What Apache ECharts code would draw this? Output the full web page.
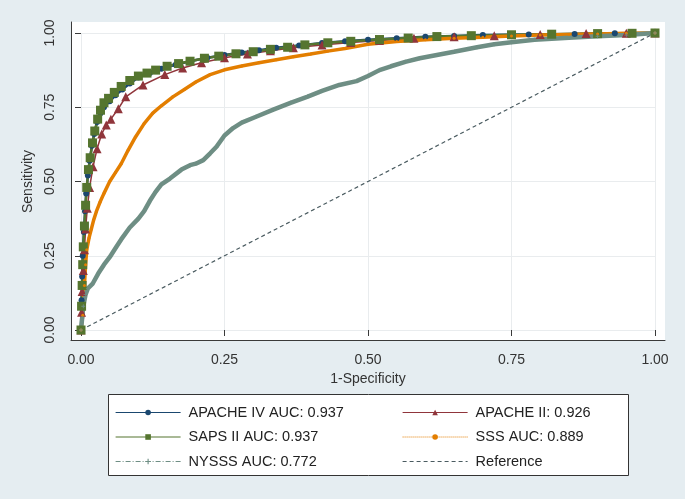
<!DOCTYPE html>
<html><head><meta charset="utf-8">
<script src="https://cdn.jsdelivr.net/npm/echarts@6/dist/echarts.min.js"></script>
<style>html,body{margin:0;padding:0;background:#e5edf1}#c{width:685px;height:499px}</style>
</head><body><div id="c"></div><script>
const tickValues = [0, 0.25, 0.5, 0.75, 1];
const tickLabels = ['0.00', '0.25', '0.50', '0.75', '1.00'];
const seriesNames = ['APACHE IV AUC: 0.937', 'APACHE II: 0.926', 'SAPS II AUC: 0.937', 'SSS AUC: 0.889', 'NYSSS AUC: 0.772', 'Reference'];

const apacheIV = [[0,0],[0.001,0.1],[0.002,0.18],[0.003,0.25],[0.005,0.33],[0.007,0.4],[0.009,0.46],[0.012,0.52],[0.015,0.57],[0.019,0.62],[0.023,0.66],[0.028,0.7],[0.034,0.73],[0.04,0.75],[0.05,0.77],[0.06,0.79],[0.072,0.81],[0.085,0.83],[0.1,0.85],[0.12,0.865],[0.14,0.88],[0.165,0.893],[0.19,0.905],[0.22,0.917],[0.25,0.926],[0.28,0.934],[0.31,0.942],[0.34,0.95],[0.38,0.958],[0.42,0.966],[0.46,0.972],[0.5,0.977],[0.55,0.982],[0.6,0.987],[0.65,0.99],[0.7,0.993],[0.78,0.995],[0.86,0.997],[0.93,0.999],[1,1]];
const apacheII = [[0,0],[0.001,0.06],[0.002,0.13],[0.004,0.2],[0.006,0.27],[0.008,0.34],[0.011,0.41],[0.015,0.48],[0.021,0.55],[0.028,0.61],[0.036,0.66],[0.044,0.69],[0.052,0.71],[0.065,0.745],[0.078,0.785],[0.108,0.825],[0.146,0.86],[0.177,0.882],[0.21,0.9],[0.25,0.917],[0.29,0.929],[0.33,0.94],[0.37,0.95],[0.42,0.96],[0.47,0.968],[0.52,0.975],[0.58,0.982],[0.65,0.987],[0.72,0.991],[0.8,0.995],[0.88,0.998],[0.95,0.999],[1,1]];
const sapsII = [[0,0],[0.001,0.08],[0.002,0.15],[0.003,0.22],[0.004,0.28],[0.006,0.35],[0.008,0.42],[0.01,0.48],[0.013,0.54],[0.016,0.58],[0.02,0.63],[0.024,0.67],[0.029,0.71],[0.034,0.74],[0.04,0.765],[0.048,0.78],[0.058,0.8],[0.07,0.82],[0.085,0.84],[0.1,0.855],[0.115,0.865],[0.13,0.875],[0.15,0.888],[0.17,0.897],[0.19,0.905],[0.215,0.915],[0.24,0.922],[0.27,0.93],[0.3,0.937],[0.33,0.945],[0.36,0.952],[0.39,0.96],[0.43,0.967],[0.47,0.972],[0.52,0.978],[0.57,0.983],[0.62,0.988],[0.68,0.991],[0.75,0.994],[0.82,0.996],[0.9,0.998],[0.96,0.999],[1,1]];
const sss = [[0,0],[0.003,0.05],[0.006,0.15],[0.008,0.22],[0.01,0.27],[0.014,0.31],[0.018,0.34],[0.022,0.37],[0.027,0.4],[0.033,0.43],[0.04,0.46],[0.05,0.5],[0.06,0.53],[0.07,0.56],[0.082,0.605],[0.095,0.65],[0.11,0.695],[0.125,0.73],[0.14,0.755],[0.16,0.785],[0.18,0.81],[0.2,0.835],[0.225,0.86],[0.25,0.876],[0.28,0.889],[0.31,0.9],[0.34,0.91],[0.37,0.92],[0.4,0.929],[0.43,0.939],[0.46,0.948],[0.5,0.962],[0.55,0.971],[0.6,0.977],[0.65,0.982],[0.7,0.986],[0.75,0.99],[0.8,0.993],[0.85,0.995],[0.9,0.997],[0.95,0.999],[1,1]];
const nysss = [[0,0],[0.002,0.04],[0.004,0.08],[0.008,0.12],[0.012,0.14],[0.02,0.155],[0.03,0.19],[0.04,0.22],[0.05,0.245],[0.06,0.275],[0.07,0.305],[0.085,0.345],[0.1,0.375],[0.11,0.4],[0.12,0.435],[0.13,0.465],[0.14,0.49],[0.155,0.51],[0.175,0.54],[0.19,0.555],[0.2,0.56],[0.213,0.572],[0.225,0.595],[0.236,0.617],[0.25,0.655],[0.265,0.68],[0.28,0.698],[0.305,0.718],[0.335,0.742],[0.365,0.765],[0.395,0.786],[0.42,0.805],[0.45,0.825],[0.48,0.838],[0.5,0.855],[0.52,0.875],[0.54,0.888],[0.565,0.903],[0.59,0.915],[0.62,0.926],[0.65,0.937],[0.69,0.952],[0.72,0.962],[0.75,0.969],[0.79,0.977],[0.85,0.984],[0.9,0.989],[0.95,0.993],[1,1]];
const reference = [[0,0],[1,1]];

const FONT = 'Liberation Sans, Arial, sans-serif';
const C = { navy:'#1a476f', maroon:'#90353b', green:'#55752f', orange:'#e37e00', teal:'#6e8e84', ref:'#4a5b60' };
const plusPath = 'path://M4,0H6V4H10V6H6V10H4V6H0V4H4Z';

const chart = echarts.init(document.getElementById('c'), null, { renderer: 'canvas' });
const fmt = v => { const i = tickValues.findIndex(t => Math.abs(t - v) < 1e-9); return i >= 0 ? tickLabels[i] : v.toFixed(2); };

function lineSeries(name, data, color, width, symbol, size, extra) {
  return Object.assign({
    type: 'line', name, data, xAxisIndex: 1, yAxisIndex: 1,
    showAllSymbol: true, symbol, symbolSize: size, clip: false, silent: true,
    lineStyle: { color, width },
    itemStyle: { color, borderWidth: 0 },
    emphasis: { disabled: true }
  }, extra || {});
}

const legendText = { color: '#222', fontSize: 14.5, fontFamily: FONT, lineHeight: 14, padding: [0, 0, 0, 3] };

chart.setOption({
  animation: false,
  backgroundColor: '#e5edf1',
  grid: [
    { left: 71, top: 22, width: 594, height: 318, show: true, backgroundColor: '#ffffff', borderWidth: 0 },
    { left: 81, top: 33, width: 574, height: 297, show: false }
  ],
  xAxis: [
    { gridIndex: 0, type: 'value', min: 0, max: 1, axisLine: { show: true, onZero: false, lineStyle: { color: '#3a3a3a', width: 1 } }, axisTick: { show: false }, axisLabel: { show: false }, splitLine: { show: false } },
    { gridIndex: 1, type: 'value', min: 0, max: 1, interval: 0.25, offset: 10,
      axisLine: { show: false }, axisTick: { show: true, length: 6, lineStyle: { color: '#3a3a3a' } },
      axisLabel: { margin: 13, color: '#333', fontSize: 14, fontFamily: FONT, formatter: fmt },
      splitLine: { show: true, lineStyle: { color: '#e9ecee', width: 1 } },
      name: '1-Specificity', nameLocation: 'middle', nameGap: 29, nameTextStyle: { color: '#333', fontSize: 14, fontFamily: FONT } }
  ],
  yAxis: [
    { gridIndex: 0, type: 'value', min: 0, max: 1, axisLine: { show: true, onZero: false, lineStyle: { color: '#3a3a3a', width: 1 } }, axisTick: { show: false }, axisLabel: { show: false }, splitLine: { show: false } },
    { gridIndex: 1, type: 'value', min: 0, max: 1, interval: 0.25, offset: 10,
      axisLine: { show: false }, axisTick: { show: true, length: 6, lineStyle: { color: '#3a3a3a' } },
      axisLabel: { margin: 14, rotate: 90, color: '#333', fontSize: 14, fontFamily: FONT, formatter: fmt },
      splitLine: { show: true, lineStyle: { color: '#e9ecee', width: 1 } },
      name: 'Sensitivity', nameLocation: 'middle', nameGap: 30, nameRotate: 90, nameTextStyle: { color: '#333', fontSize: 14, fontFamily: FONT } }
  ],
  graphic: [
    { type: 'rect', left: 108, top: 394, shape: { width: 520, height: 81 }, style: { fill: '#ffffff', stroke: '#333333', lineWidth: 1 }, z: 1 }
  ],
  legend: [
    { left: 115, top: 405, padding: 0, orient: 'vertical', itemWidth: 65, itemHeight: 7, itemGap: 9.5, selectedMode: false, z: 5,
      textStyle: legendText,
      data: [
        { name: seriesNames[0], lineStyle: { color: C.navy, width: 1.2 }, itemStyle: { color: C.navy } },
        { name: seriesNames[2], lineStyle: { color: C.green, width: 1.2 }, itemStyle: { color: C.green } },
        { name: seriesNames[4], lineStyle: { color: C.teal, width: 1, type: [5, 2, 1, 2] }, itemStyle: { color: C.teal } }
      ] },
    { left: 402, top: 405, padding: 0, orient: 'vertical', itemWidth: 65, itemHeight: 7, itemGap: 9.5, selectedMode: false, z: 5,
      textStyle: legendText,
      data: [
        { name: seriesNames[1], lineStyle: { color: C.maroon, width: 1.2 }, itemStyle: { color: C.maroon } },
        { name: seriesNames[3], lineStyle: { color: C.orange, width: 1, type: 'dotted' }, itemStyle: { color: C.orange } },
        { name: seriesNames[5], lineStyle: { color: C.ref, width: 1, type: [4, 3] }, itemStyle: { opacity: 0 } }
      ] }
  ],
  series: [
    lineSeries(seriesNames[0], apacheIV, C.navy, 2.5, 'circle', 6),
    lineSeries(seriesNames[1], apacheII, C.maroon, 1.5, 'triangle', 9),
    lineSeries(seriesNames[2], sapsII, C.green, 2.5, 'rect', 9),
    lineSeries(seriesNames[3], sss, C.orange, 3.5, 'circle', 3),
    lineSeries(seriesNames[4], nysss, C.teal, 4.5, plusPath, 4),
    lineSeries(seriesNames[5], reference, C.ref, 1.2, 'none', 0, { lineStyle: { color: C.ref, width: 1.2, type: [4, 3] } })
  ]
});
</script></body></html>
